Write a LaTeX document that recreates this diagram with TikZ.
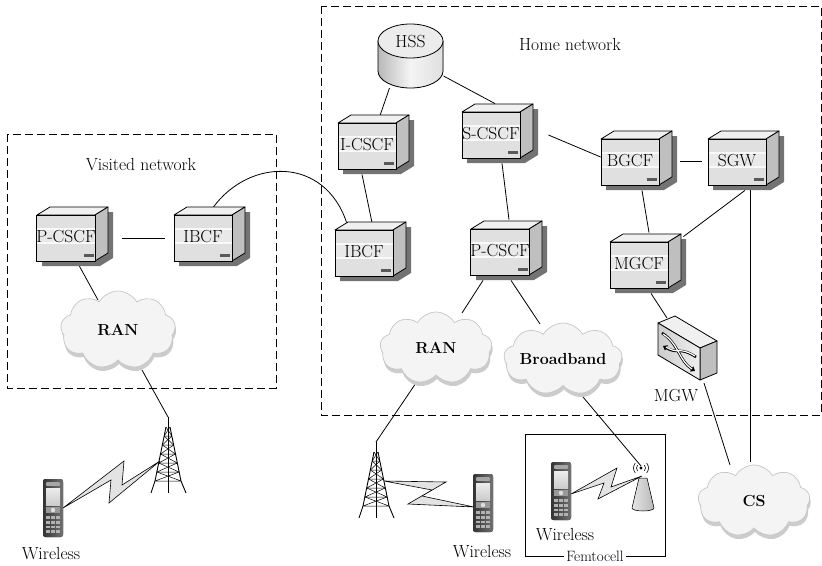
\documentclass[tikz,border=0pt]{standalone}
\usepackage{fontspec}
\usetikzlibrary{calc,shapes.symbols,shadows,arrows.meta}
\pgfdeclarelayer{bg}
\pgfsetlayers{bg,main}

\tikzset{
  lbl/.style={font=\fontsize{17.5}{20}\selectfont, inner sep=1pt},
  netbox/.style={draw, line width=0.8pt, dash pattern=on 8pt off 4pt},
  link/.style={draw, line width=0.8pt},
  srvfront/.style={rectangle, draw, line width=0.8pt, fill=gray!24,
    minimum width=58pt, minimum height=46pt, inner sep=0pt,
    font=\fontsize{17.5}{20}\selectfont,
    path picture={
      \fill[gray!5] ([yshift=-13pt]path picture bounding box.north west)
        rectangle ([yshift=-29pt]path picture bounding box.north east);
      \fill[gray!17] ([yshift=-15pt]path picture bounding box.north west)
        rectangle ([yshift=-27pt]path picture bounding box.north east);
      \fill[black!65] ([xshift=-12pt,yshift=4pt]path picture bounding box.south east)
        rectangle ([xshift=-2pt,yshift=7pt]path picture bounding box.south east);
    }},
  srvtop/.style={fill=gray!12, draw=black, line width=0.8pt, line join=round},
  srvside/.style={fill=gray!50, draw=black, line width=0.8pt, line join=round},
  srvshade/.style={fill=black!55},
  cloudnode/.style={cloud, cloud puffs=9, cloud puff arc=120, cloud ignores aspect,
    fill=gray!9, draw=gray!45, line width=0.7pt, inner sep=0pt,
    font=\fontsize{16}{19}\selectfont\bfseries,
    drop shadow={shadow xshift=1pt, shadow yshift=-4pt, fill=gray!40, opacity=1}},
  bolt/.style={fill=gray!22, draw=black, line width=0.6pt, line join=miter},
  tower/.pic={
    \coordinate (-top) at (0,0);
    \draw[line width=0.7pt] (0,0) -- (0,76);
    \draw[line width=0.9pt] (-2,10) -- (-13,64) -- (-17,76);
    \draw[line width=0.9pt] (2,10) -- (13,64) -- (18,76);
    \foreach \ya/\yb in {10/19,19/28,28/37,37/46,46/55,55/64} {
      \pgfmathsetmacro\xa{2+(\ya-10)*11/54}
      \pgfmathsetmacro\xb{2+(\yb-10)*11/54}
      \draw[line width=0.5pt] (-\xa,\ya) -- (\xb,\yb) (\xa,\ya) -- (-\xb,\yb)
        (-\xb,\yb) -- (\xb,\yb);
    }
  },
  phone/.pic={
    \coordinate (-c) at (0,0);
    \fill[left color=black!80, right color=black!55, rounded corners=2.5pt]
      (-10,-29) rectangle (10,29);
    \fill[black!35, rounded corners=1pt] (-7,-26) rectangle (7,-22);
    \fill[top color=gray!15, bottom color=gray!40] (-7,-20) rectangle (7,-3);
    \fill[black!40] (-7,-1) rectangle (7,5);
    \fill[gray!25] (0,2) circle (2.2);
    \foreach \r in {0,...,3} \foreach \c in {-1,0,1}
      \fill[black!30] (\c*5-1.8,8+\r*4.8) rectangle (\c*5+1.8,10.8+\r*4.8);
  }
}

% server: front face node plus its shadow, top and side faces
\newcommand\srvbox[3]{%
  \begin{scope}[shift={(#2)}]
    \fill[srvshade] (-24,-18) -- (-11,-26) -- (47,-26) -- (47,20) -- (34,28) -- (-24,28) -- cycle;
    \filldraw[srvtop] (-29,-23) -- (-16,-31) -- (42,-31) -- (29,-23) -- cycle;
    \filldraw[srvside] (29,-23) -- (42,-31) -- (42,15) -- (29,23) -- cycle;
  \end{scope}
  \node[srvfront] (#1) at (#2) {\raisebox{4pt}{#3}};
}

\begin{document}
\begin{tikzpicture}[x=1pt,y=-1pt]
\useasboundingbox (0,0) rectangle (822,565);

% ---------- radio side: bolts, towers, phones ----------
\filldraw[bolt] (63,508) -- (124,461) -- (122,485) -- (160,461) -- (109,503) -- (111,480) -- cycle;
\filldraw[bolt] (384,481) -- (446,482) -- (422,496) -- (474,507) -- (408,504) -- (432,490) -- cycle;
\filldraw[bolt] (571,494) -- (617,468) -- (611,487) -- (642,476) -- (598,499) -- (604,483) -- cycle;

\pic (towerv) at (168,417) {tower};
\pic (towerh) at (376,442) {tower};

\pic (phonev) at (53,508) {phone};
\pic (phoneh) at (483,503) {phone};
\pic (phonef) at (561,491) {phone};

% femtocell access point
\filldraw[left color=gray!20, right color=gray!55, line width=0.5pt]
  (639,478) -- (647,478) -- (654,508) arc[start angle=0, end angle=180, x radius=11, y radius=3] -- cycle;
\fill (641,468) circle (1.6);
\draw[line width=0.6pt] (641,468) ++(140:4.5) arc[start angle=140, end angle=220, radius=4.5];
\draw[line width=0.6pt] (641,468) ++(40:4.5) arc[start angle=40, end angle=-40, radius=4.5];
\draw[line width=0.6pt] (641,468) ++(140:7.5) arc[start angle=140, end angle=220, radius=7.5];
\draw[line width=0.6pt] (641,468) ++(40:7.5) arc[start angle=40, end angle=-40, radius=7.5];
\coordinate (ap) at (641,466);

% femtocell boundary
\draw[line width=0.8pt] (525,434) rectangle (665,556);
\node[lbl, fill=white, inner sep=2pt, font=\fontsize{15}{16}\selectfont] (femtolbl) at (595,556) {Femtocell};

% ---------- clouds ----------
\node[cloudnode, minimum width=115pt, minimum height=78pt] (ranv) at (118,330) {RAN};
\node[cloudnode, minimum width=112pt, minimum height=72pt] (ranh) at (436,348) {RAN};
\node[cloudnode, minimum width=114pt, minimum height=72pt] (bb) at (563,359) {Broadband};
\node[cloudnode, minimum width=112pt, minimum height=72pt] (cs) at (754,501) {CS};

% ---------- HSS database ----------
\fill[left color=gray!55, right color=gray!25, middle color=gray!8]
  (378,41) -- (378,71) arc[start angle=180, end angle=0, x radius=32.5, y radius=17] -- (443,41) -- cycle;
\draw[line width=0.8pt] (378,41) -- (378,71) arc[start angle=180, end angle=0, x radius=32.5, y radius=17] -- (443,41);
\filldraw[fill=gray!15, line width=0.8pt] (410.5,41) ellipse [x radius=32.5, y radius=17];
\node[minimum width=65pt, minimum height=64pt, inner sep=0pt,
  label={[lbl, yshift=14pt]center:HSS}] (hss) at (410.5,56) {};

% ---------- servers ----------
\srvbox{pcscfv}{66,238}{P-CSCF}
\srvbox{ibcfv}{203,238}{IBCF}
\srvbox{icscf}{367,146}{I-CSCF}
\srvbox{scscf}{491,135}{S-CSCF}
\srvbox{ibcfh}{364,253}{IBCF}
\srvbox{pcscfh}{500,252}{P-CSCF}
\srvbox{bgcf}{630,162}{BGCF}
\srvbox{sgw}{737,162}{SGW}
\srvbox{mgcf}{639,265}{MGCF}

% ---------- media gateway ----------
\filldraw[fill=gray!12, line width=0.8pt, line join=round] (658,323) -- (675,316) -- (717,341) -- (700,348) -- cycle;
\filldraw[fill=gray!50, line width=0.8pt, line join=round] (700,348) -- (717,341) -- (717,373) -- (700,380) -- cycle;
\filldraw[left color=gray!40, right color=gray!12, line width=0.8pt, line join=round] (658,323) -- (700,348) -- (700,380) -- (658,355) -- cycle;
\begin{scope}[line cap=butt]
  \draw[line width=2.6pt, -{Triangle[length=4pt,width=6pt]}] (662,333) .. controls (679,344) and (679,361) .. (695,371);
  \draw[line width=2.6pt, -{Triangle[length=4pt,width=6pt]}] (696,357) .. controls (679,346) and (679,355) .. (663,346);
  \draw[white, line width=1.2pt] (663,334) .. controls (679,344) and (679,361) .. (692,369);
  \draw[white, line width=1.2pt] (695,356) .. controls (679,346) and (679,355) .. (666,347);
\end{scope}
\node[inner sep=0pt, minimum width=59pt, minimum height=66pt] (mgw) at (687,348) {};
\node[lbl] (mgwlbl) at (676,396) {MGW};

% ---------- text labels ----------
\node[lbl] (vnet) at (141,165) {Visited network};
\node[lbl] (hnet) at (570,44) {Home network};
\node[lbl] (wv) at (51,554) {Wireless};
\node[lbl] (wh) at (482,552) {Wireless};
\node[lbl] (wf) at (565,535) {Wireless};

% ---------- network borders and links ----------
\begin{pgfonlayer}{bg}
  \draw[netbox] (321,6) rectangle (821,415);
  \draw[netbox] (7,134) rectangle (276,388);

  \draw[link] ($(hss)+(-21,32)$) -- ($(icscf.north)+(13,-7)$);
  \draw[link] ($(hss)+(33,20)$) -- ($(scscf.north)+(4,-8)$);
  \draw[link] ($(icscf.south)+(-5,5)$) -- ($(ibcfh.north)+(8,-7)$);
  \draw[link] ($(scscf.south)+(11,5)$) -- ($(pcscfh.north)+(9,-9)$);
  \draw[link] ($(scscf.east)+(28,0)$) -- ($(bgcf.west)+(0,-5)$);
  \draw[link] ($(bgcf.east)+(21,-1)$) -- ($(sgw.west)+(-6,-1)$);
  \draw[link] ($(bgcf.south)+(12,5)$) -- ($(mgcf.north)+(10,-9)$);
  \draw[link] ($(sgw.south)+(8,5)$) -- ($(mgcf.north east)+(15,-5)$);
  \draw[link] ($(mgcf.south)+(12,5)$) -- ($(mgw)+(-20,-30)$);
  \draw[link] ($(mgw)+(17,35)$) -- ($(cs)+(-24,-36)$);
  \draw[link] ($(sgw.south)+(13,5)$) -- ($(cs)+(-4,-39)$);
  \draw[link] ($(pcscfh.south)+(-17,5)$) -- ($(ranh)+(26,-35)$);
  \draw[link] ($(pcscfh.south)+(11,5)$) -- ($(bb)+(-23,-35)$);
  \draw[link] ($(ranh)+(-20,35)$) -- (towerh-top);
  \draw[link] ($(bb)+(20,38)$) -- (ap);
  \draw[link] ($(pcscfv.east)+(26,0)$) -- ($(ibcfv.west)+(-9,0)$);
  \draw[link] ($(pcscfv.south)+(13,4)$) -- ($(ranv)+(-20,-30)$);
  \draw[link] ($(ranv)+(24,40)$) -- (towerv-top);
  \draw[link] ($(ibcfv.north)+(10,-7)$) .. controls (250,157) and (325,157) .. ($(ibcfh.north west)+(12,-7)$);
\end{pgfonlayer}
\end{tikzpicture}
\end{document}
